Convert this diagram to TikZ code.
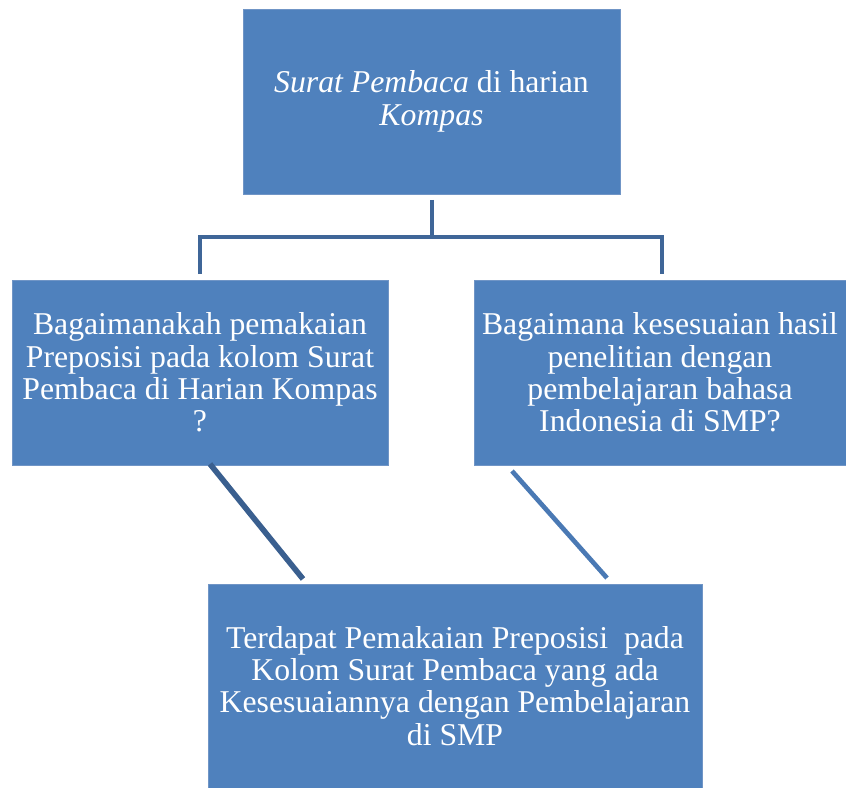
\documentclass[tikz,border=0pt]{standalone}
\usepackage{fontspec}
\setmainfont{Liberation Serif}
\usetikzlibrary{calc}
\definecolor{boxfill}{HTML}{4F81BD}
\definecolor{boxedge}{HTML}{7095C6}
\definecolor{brackcol}{HTML}{3F6698}
\definecolor{darkline}{HTML}{3A5F8F}
\definecolor{lightline}{HTML}{4A79B4}
\tikzset{
  box/.style={rectangle, fill=boxfill, draw=boxedge, line width=0.6pt,
    text=white, align=center, inner sep=0pt,
    font=\fontsize{23.8}{24.2}\selectfont},
  bracket/.style={draw=brackcol, line width=3.7pt},
  darkconn/.style={draw=darkline, line width=4.2pt},
  lightconn/.style={draw=lightline, line width=3.5pt}
}
\begin{document}
\begin{tikzpicture}[x=0.75pt,y=-0.75pt]
\useasboundingbox (0,0) rectangle (846,788);
\node[box, minimum width=282.75pt, minimum height=138.75pt] (top) at (431.5,101.5)
  {\textit{Surat Pembaca} di harian\\\textit{Kompas}};
\node[box, minimum width=282pt, minimum height=138.75pt] (left) at (200,372.5)
  {Bagaimanakah pemakaian\\Preposisi pada kolom Surat\\Pembaca di Harian Kompas\\?};
\node[box, minimum width=279pt, minimum height=138.75pt] (right) at (660,372.5)
  {Bagaimana kesesuaian hasil\\penelitian dengan\\pembelajaran bahasa\\Indonesia di SMP?};
\node[box, minimum width=370.5pt, minimum height=153pt] (bottom) at (455,686)
  {Terdapat Pemakaian Preposisi\ \ pada\\Kolom Surat Pembaca yang ada\\Kesesuaiannya dengan Pembelajaran\\di SMP};
% bracket
\coordinate (tS) at (432,200);
\coordinate (j) at (432,237);
\coordinate (lT) at (200,274);
\coordinate (rT) at (662,274);
\draw[bracket] (tS) -- (j);
\draw[bracket] (lT) |- (j) -| (rT);
% diagonals
\coordinate (lB) at (210,464);
\coordinate (bL) at (303,579);
\coordinate (rB) at (512,471);
\coordinate (bR) at (607,578);
\draw[darkconn] (lB) -- (bL);
\draw[lightconn] (rB) -- (bR);
\end{tikzpicture}
\end{document}
